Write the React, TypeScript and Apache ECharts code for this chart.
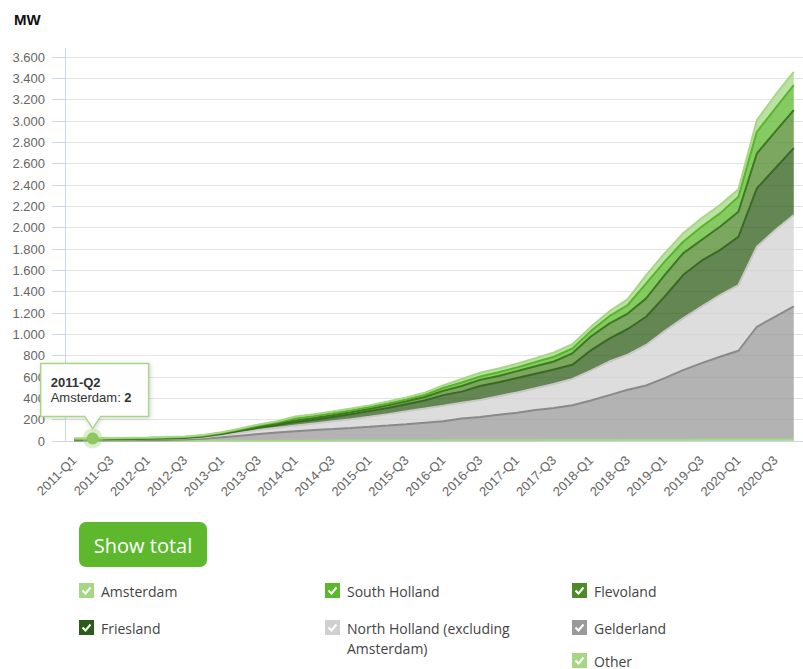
import React, { useEffect, useRef } from "react";
import * as echarts from "echarts";

const quarters = [
  "2011-Q1", "2011-Q2", "2011-Q3", "2011-Q4",
  "2012-Q1", "2012-Q2", "2012-Q3", "2012-Q4",
  "2013-Q1", "2013-Q2", "2013-Q3", "2013-Q4",
  "2014-Q1", "2014-Q2", "2014-Q3", "2014-Q4",
  "2015-Q1", "2015-Q2", "2015-Q3", "2015-Q4",
  "2016-Q1", "2016-Q2", "2016-Q3", "2016-Q4",
  "2017-Q1", "2017-Q2", "2017-Q3", "2017-Q4",
  "2018-Q1", "2018-Q2", "2018-Q3", "2018-Q4",
  "2019-Q1", "2019-Q2", "2019-Q3", "2019-Q4",
  "2020-Q1", "2020-Q2", "2020-Q3", "2020-Q4",
];

// MW per province (stacked, bottom to top: Other ... Amsterdam)
const other = [1, 1, 1, 1, 1, 1, 2, 2, 2, 2, 3, 3, 3, 3, 4, 4, 4, 5, 5, 5, 6, 6, 7, 7, 8, 8, 9, 9, 10, 10, 11, 11, 12, 12, 13, 13, 14, 14, 15, 15];
const gelderland = [4, 4, 5, 6, 7, 9, 11, 18, 33, 48, 62, 77, 89, 100, 108, 118, 129, 140, 153, 167, 179, 204, 218, 238, 257, 282, 301, 326, 370, 420, 469, 509, 578, 653, 717, 777, 832, 1057, 1151, 1247];
const northHolland = [7, 8, 8, 9, 10, 11, 12, 15, 20, 30, 40, 45, 53, 62, 73, 83, 95, 107, 120, 133, 145, 148, 160, 175, 190, 205, 225, 247, 280, 315, 330, 380, 440, 485, 530, 578, 616, 750, 813, 856];
const friesland = [2, 2, 2, 2, 3, 3, 4, 7, 10, 15, 20, 25, 33, 35, 40, 45, 52, 58, 67, 75, 100, 105, 130, 130, 135, 135, 135, 132, 190, 215, 240, 265, 323, 406, 430, 422, 453, 547, 578, 628];
const flevoland = [3, 3, 4, 4, 4, 4, 5, 6, 7, 10, 13, 15, 15, 15, 17, 20, 20, 25, 27, 32, 40, 52, 58, 60, 65, 70, 75, 108, 130, 140, 145, 172, 203, 203, 194, 219, 234, 328, 343, 356];
const southHolland = [4, 4, 4, 4, 4, 5, 4, 4, 5, 5, 9, 10, 19, 20, 18, 17, 18, 17, 18, 20, 27, 33, 32, 35, 35, 40, 45, 45, 50, 70, 80, 141, 125, 109, 125, 125, 141, 203, 219, 234];
const amsterdam = [3, 2, 3, 4, 4, 4, 5, 5, 5, 7, 8, 10, 18, 15, 16, 17, 16, 18, 18, 20, 23, 33, 35, 35, 35, 37, 40, 40, 40, 45, 55, 78, 78, 79, 79, 78, 69, 109, 125, 125];

const yMax = 3600;
const yStep = 200;
const highlightIndex = 1;

const AXIS_FONT = "'Liberation Sans', Arial, sans-serif";
const LEGEND_FONT = "'Open Sans', 'Liberation Sans', sans-serif";

const seriesDefs = [
  { name: "Other", data: other, line: "#a6d785", fill: "#a6d785", box: "#a6d785" },
  { name: "Gelderland", data: gelderland, line: "#8a8a8a", fill: "#999999", box: "#999999" },
  { name: "North Holland (excluding Amsterdam)", data: northHolland, line: "#c8c8c8", fill: "#d2d2d2", box: "#d0d0d0" },
  { name: "Friesland", data: friesland, line: "#3a6a22", fill: "#2f5e1a", box: "#2d5b1a" },
  { name: "Flevoland", data: flevoland, line: "#3c7a20", fill: "#4f8a2b", box: "#4e8a2a" },
  { name: "South Holland", data: southHolland, line: "#58b52a", fill: "#5cb82e", box: "#5ab82b" },
  { name: "Amsterdam", data: amsterdam, line: "#a6d785", fill: "#a6d785", box: "#a6d785" },
];

// legend in reading order (row-major, three columns)
const legendItems = [
  { name: "Amsterdam", label: "Amsterdam", col: 0, row: 0 },
  { name: "South Holland", label: "South Holland", col: 1, row: 0 },
  { name: "Flevoland", label: "Flevoland", col: 2, row: 0 },
  { name: "Friesland", label: "Friesland", col: 0, row: 1 },
  { name: "North Holland (excluding Amsterdam)", label: "North Holland (excluding\nAmsterdam)", col: 1, row: 1 },
  { name: "Gelderland", label: "Gelderland", col: 2, row: 1 },
  { name: "Other", label: "Other", col: 2, row: 2 },
];

function fmt(v: number) {
  return String(v).replace(/\B(?=(\d{3})+(?!\d))/g, ".");
}

export default function App() {
  const ref = useRef<HTMLDivElement>(null);
  useEffect(() => {
    const el = ref.current!;
    const chart = echarts.init(el, null, { renderer: "svg" });
    chart.setOption({
      animation: false,
      grid: { left: 65, right: -3, top: 57, bottom: 228 },
      xAxis: {
        type: "category",
        data: quarters,
        boundaryGap: true,
        axisLine: { show: true, lineStyle: { color: "#ccd6eb", width: 1 } },
        axisTick: { show: false },
        axisLabel: {
          interval: 1,
          rotate: 45,
          margin: 17,
          color: "#666666",
          fontSize: 13,
          fontFamily: AXIS_FONT,
        },
        splitLine: { show: false },
      },
      yAxis: {
        type: "value",
        min: 0,
        max: yMax,
        interval: yStep,
        axisLine: { show: true, lineStyle: { color: "#ccd6eb", width: 1 } },
        axisTick: { show: true, length: 13, lineStyle: { color: "#ccd6eb" } },
        axisLabel: {
          margin: 20,
          color: "#666666",
          fontSize: 13,
          fontFamily: AXIS_FONT,
          formatter: (v: number) => fmt(v),
        },
        splitLine: { show: true, lineStyle: { color: "#e3e3e3", width: 1 } },
      },
      series: seriesDefs.map((s) => ({
        name: s.name,
        type: "line",
        stack: "total",
        data: s.data,
        symbol: "none",
        smooth: false,
        lineStyle: { color: s.line, width: 2 },
        itemStyle: { color: s.line },
        areaStyle: { color: s.fill, opacity: 0.75 },
      })),
    });

    // highlighted point (top of stack at highlightIndex)
    let total = 0;
    seriesDefs.forEach((s) => (total += s.data[highlightIndex]));
    const [px, py] = chart.convertToPixel({ gridIndex: 0 }, [quarters[highlightIndex], total]) as number[];
    const boxL = px - 52;
    const boxR = px + 56;
    const boxT = py - 75;
    const boxB = py - 22;
    const tip = py - 10;

    const graphics: any[] = [
      {
        type: "text",
        left: 14,
        top: 12,
        style: { text: "MW", font: `bold 15px ${AXIS_FONT}`, fill: "#111111" },
      },
      {
        type: "line",
        shape: { x1: 65.5, y1: 48, x2: 65.5, y2: 57 },
        style: { stroke: "#ccd6eb", lineWidth: 1 },
      },
      { type: "circle", shape: { cx: px, cy: py, r: 10 }, style: { fill: "#a6d785", opacity: 0.4 }, z: 100 },
      { type: "circle", shape: { cx: px, cy: py, r: 6 }, style: { fill: "#8fc862" }, z: 101 },
      {
        type: "polygon",
        shape: {
          points: [
            [boxL, boxT], [boxR, boxT], [boxR, boxB], [px + 8, boxB], [px, tip], [px - 8, boxB], [boxL, boxB],
          ],
        },
        style: {
          fill: "rgba(255,255,255,0.96)",
          stroke: "#a6d785",
          lineWidth: 1.5,
          shadowBlur: 4,
          shadowColor: "rgba(0,0,0,0.18)",
          shadowOffsetX: 1,
          shadowOffsetY: 1,
        },
        z: 102,
      },
      {
        type: "text",
        x: boxL + 10,
        y: boxT + 19,
        z: 103,
        style: {
          text: quarters[highlightIndex],
          font: `bold 13px ${AXIS_FONT}`,
          fill: "#333333",
          verticalAlign: "middle",
        },
      },
      {
        type: "text",
        x: boxL + 10,
        y: boxT + 34,
        z: 103,
        style: {
          text: `{a|Amsterdam: }{b|${amsterdam[highlightIndex]}}`,
          verticalAlign: "middle",
          rich: {
            a: { font: `13px ${AXIS_FONT}`, fill: "#333333" },
            b: { font: `bold 13px ${AXIS_FONT}`, fill: "#333333" },
          },
        },
      },
      {
        type: "rect",
        shape: { x: 79, y: 522, width: 128, height: 45, r: 7 },
        style: { fill: "#5db82e" },
      },
      {
        type: "text",
        x: 143,
        y: 545,
        style: {
          text: "Show total",
          font: `20px ${LEGEND_FONT}`,
          fill: "#ffffff",
          align: "center",
          verticalAlign: "middle",
        },
      },
    ];

    const colX = [79, 325, 572];
    const rowY = [591, 628, 661];
    legendItems.forEach((it) => {
      const def = seriesDefs.find((s) => s.name === it.name)!;
      const x = colX[it.col];
      const y = rowY[it.row];
      graphics.push({
        type: "rect",
        shape: { x: x, y: y - 8, width: 15, height: 15 },
        style: { fill: def.box },
      });
      graphics.push({
        type: "polyline",
        shape: { points: [[x + 3.5, y - 0.5], [x + 6.5, y + 2.5], [x + 11.5, y - 3.5]] },
        style: { stroke: "#ffffff", lineWidth: 2, fill: null },
      });
      graphics.push({
        type: "text",
        x: x + 22,
        y: y - 10,
        style: {
          text: it.label,
          font: `14px ${LEGEND_FONT}`,
          fill: "#444444",
          lineHeight: 20,
          verticalAlign: "top",
        },
      });
    });

    chart.setOption({ graphic: graphics });

    return () => chart.dispose();
  }, []);
  return (
    <div
      ref={ref}
      style={{ position: "absolute", left: 0, top: 0, width: 803, height: 669 }}
    />
  );
}
